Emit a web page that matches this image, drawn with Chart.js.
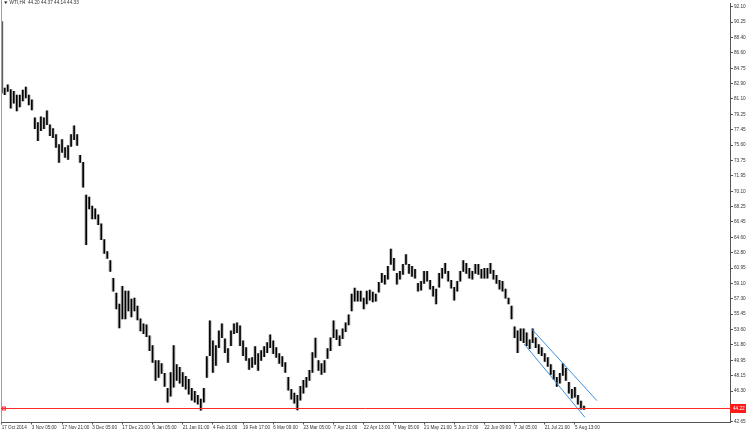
<!DOCTYPE html>
<html>
<head>
<meta charset="utf-8">
<script src="https://cdn.jsdelivr.net/npm/chart.js"></script>
<style>
  html, body { margin: 0; padding: 0; background: #fff; }
  #wrap { width: 750px; height: 430px; position: relative; }
</style>
</head>
<body>
<div id="wrap"><canvas id="wti"></canvas></div>
<script>
// WTI H4, one slot per trading day
const slotHigh = [
  90.30, 82.38, 82.78, 82.20, 82.00, 81.56, 81.56, 82.15, 82.50, 81.56,
  80.97, 78.85, 78.26, 78.97, 78.85, 79.67, 78.02, 77.55, 76.84, 75.66,
  76.25, 75.31, 75.54, 76.84, 77.90, 76.84, 74.36, 73.54, 69.64, 69.40,
  68.34, 67.99, 67.28, 66.22, 64.33, 62.91, 61.85, 59.73, 57.96, 56.66,
  58.78, 58.19, 58.19, 57.25, 57.37, 56.42, 54.89, 54.30, 54.18, 52.88,
  51.70, 49.93, 49.93, 49.58, 48.40, 46.63, 48.51, 51.70, 49.46, 49.11,
  48.51, 48.04, 47.69, 46.63, 46.27, 45.80, 45.33, 46.63, 50.40, 54.65,
  52.29, 51.70, 53.47, 54.30, 52.53, 51.35, 53.47, 54.30, 54.42, 54.06,
  52.29, 51.47, 50.17, 50.29, 51.58, 50.76, 51.11, 51.58, 52.06, 53.00,
  52.29, 51.47, 50.76, 50.40, 49.70, 47.93, 46.51, 46.04, 45.80, 46.86,
  47.57, 47.93, 48.75, 50.88, 52.60, 49.93, 49.58, 49.93, 51.35, 52.65,
  54.65, 53.59, 52.88, 53.71, 54.42, 55.36, 57.84, 58.55, 58.19, 58.19,
  57.37, 58.19, 58.31, 58.08, 57.84, 59.25, 60.32, 60.08, 61.14, 63.20,
  62.09, 60.32, 60.55, 61.38, 62.56, 61.38, 61.14, 60.79, 59.13, 59.37,
  60.55, 60.55, 59.49, 58.78, 58.43, 60.32, 60.91, 61.50, 60.55, 59.49,
  58.66, 59.37, 60.55, 61.85, 61.50, 60.91, 60.55, 61.38, 61.38, 60.79,
  60.91, 60.91, 61.50, 60.67, 60.08, 59.49, 59.37, 58.43, 57.37, 56.42,
  53.95, 53.47, 53.71, 53.71, 53.24, 52.41, 53.71, 52.65, 51.82, 51.47,
  50.76, 50.29, 49.46, 48.75, 47.93, 48.40, 49.58, 48.99, 47.34, 46.51,
  46.75, 45.80, 45.09, 44.50
];
const slotLow = [
  81.80, 81.60, 82.00, 80.00, 80.60, 79.67, 80.15, 80.85, 81.20, 80.38,
  79.79, 77.55, 76.13, 77.31, 77.55, 78.02, 76.72, 76.49, 75.31, 73.54,
  74.72, 74.13, 73.89, 75.42, 76.25, 75.54, 73.54, 70.58, 63.74, 67.99,
  66.81, 66.81, 66.10, 64.33, 62.68, 62.09, 60.55, 58.19, 56.07, 53.83,
  54.89, 54.89, 55.83, 55.13, 55.83, 54.77, 53.47, 53.12, 52.76, 51.11,
  49.70, 47.57, 47.93, 48.40, 46.86, 44.98, 45.68, 46.75, 47.57, 47.22,
  46.86, 46.51, 45.92, 45.21, 44.98, 44.74, 44.03, 44.98, 47.93, 50.52,
  48.52, 49.34, 51.47, 52.65, 50.88, 49.70, 51.70, 53.12, 53.24, 51.70,
  50.52, 49.93, 48.87, 49.11, 49.46, 48.75, 49.93, 50.40, 50.88, 51.47,
  50.76, 50.29, 49.58, 49.22, 48.52, 46.39, 45.33, 44.86, 44.05, 45.21,
  46.04, 46.75, 47.57, 48.52, 50.29, 48.75, 48.28, 48.52, 50.17, 51.11,
  52.65, 52.41, 51.70, 52.53, 53.36, 54.18, 55.83, 57.01, 57.01, 57.01,
  56.07, 56.66, 57.13, 56.90, 57.01, 58.08, 59.25, 59.02, 59.61, 61.38,
  60.67, 59.02, 59.61, 60.20, 61.38, 60.32, 59.96, 59.73, 58.19, 58.31,
  59.13, 59.37, 58.43, 57.60, 56.66, 58.66, 59.73, 60.32, 59.37, 58.55,
  57.13, 58.19, 59.37, 60.55, 60.32, 59.73, 59.61, 60.32, 60.20, 59.73,
  59.73, 59.73, 60.32, 59.61, 59.13, 58.43, 58.19, 57.37, 56.66, 54.89,
  52.65, 50.88, 52.29, 52.06, 51.70, 51.35, 52.06, 51.47, 50.76, 50.52,
  49.82, 49.22, 48.28, 47.69, 46.86, 47.22, 48.16, 47.57, 46.04, 45.45,
  45.57, 44.74, 44.15, 44.10
];

// time axis labels, one every 10 slots
const xTickSlots = [0, 10, 20, 30, 40, 50, 60, 70, 80, 90, 100, 110, 120, 130, 140, 150, 160, 170, 180, 190];
const xTickLabels = [
  '17 Oct 2014', '3 Nov 05:00', '17 Nov 21:00', '3 Dec 05:00', '17 Dec 21:00',
  '6 Jan 05:00', '21 Jan 01:00', '4 Feb 21:00', '19 Feb 17:00', '6 Mar 09:00',
  '23 Mar 05:00', '7 Apr 21:00', '22 Apr 13:00', '7 May 05:00', '21 May 21:00',
  '5 Jun 17:00', '22 Jun 09:00', '7 Jul 05:00', '21 Jul 21:00', '5 Aug 13:00'
];

// price scale labels
const yTickValues = [
  92.10, 90.25, 88.40, 86.60, 84.75, 82.90, 81.10, 79.25, 77.45, 75.60,
  73.75, 71.95, 70.10, 68.25, 66.45, 64.60, 62.80, 60.95, 59.10, 57.30,
  55.45, 53.60, 51.80, 49.95, 48.15, 46.30, 42.65
];

// down channel drawn on the chart (slot, price)
const channelUpperX = [175.7, 197.3];
const channelUpperY = [53.67, 45.15];
const channelLowerX = [173.2, 193.3];
const channelLowerY = [51.90, 43.17];

// horizontal support level
const supportLevel = 44.22;
const headerText = 'WTI,H4  44.20 44.37 44.14 44.33';

const FONT = '"Liberation Sans", Arial, sans-serif';

const bars = slotHigh.map((h, i) => ({ x: i, y: [slotLow[i], h] }));

const overlay = {
    id: 'mt4Overlay',
    afterDraw(chart) {
        const { ctx, chartArea: a, scales: { y } } = chart;
        const py = Math.round(y.getPixelForValue(supportLevel)) + 0.5;
        ctx.save();

        // left frame
        ctx.strokeStyle = '#a0a0a0';
        ctx.lineWidth = 1;
        ctx.beginPath();
        ctx.moveTo(a.left + 0.5, 0);
        ctx.lineTo(a.left + 0.5, a.bottom);
        ctx.stroke();

        // support line + marker
        ctx.strokeStyle = '#ff2a2a';
        ctx.beginPath();
        ctx.moveTo(a.left, py);
        ctx.lineTo(a.right, py);
        ctx.stroke();
        ctx.strokeRect(a.left + 1.5, py - 1.5, 3, 3);

        // price tag on the axis
        ctx.fillStyle = '#ff1a1a';
        ctx.fillRect(a.right, py - 4.5, 16, 9);
        ctx.fillStyle = '#ffffff';
        ctx.font = '4.7px ' + FONT;
        ctx.textBaseline = 'middle';
        ctx.textAlign = 'left';
        ctx.fillText(supportLevel.toFixed(2), a.right + 3, py);

        // header
        ctx.fillStyle = '#222';
        ctx.beginPath();
        ctx.moveTo(4, 1.5);
        ctx.lineTo(7.5, 1.5);
        ctx.lineTo(5.75, 4);
        ctx.closePath();
        ctx.fill();
        ctx.fillStyle = '#333';
        ctx.fillText(headerText, 9.5, 3);

        ctx.restore();
    }
};

new Chart(document.getElementById('wti'), {
    type: 'bar',
    data: {
        datasets: [
            {
                label: 'WTI range',
                data: bars,
                backgroundColor: '#c4c4c4',
                borderWidth: 0,
                grouped: false,
                barPercentage: 1,
                categoryPercentage: 1,
                order: 2
            },
            {
                label: 'WTI',
                data: bars,
                backgroundColor: '#000',
                borderWidth: 0,
                grouped: false,
                barThickness: 1,
                order: 1
            },
            {
                type: 'line',
                label: 'upper',
                data: channelUpperX.map((x, i) => ({ x: x, y: channelUpperY[i] })),
                borderColor: '#3b8fe0',
                borderWidth: 1,
                pointRadius: 0,
                fill: false,
                order: 0
            },
            {
                type: 'line',
                label: 'lower',
                data: channelLowerX.map((x, i) => ({ x: x, y: channelLowerY[i] })),
                borderColor: '#3b8fe0',
                borderWidth: 1,
                pointRadius: 0,
                fill: false,
                order: 0
            }
        ]
    },
    options: {
        responsive: true,
        maintainAspectRatio: false,
        animation: false,
        layout: { padding: { left: 1, top: 0, right: 0, bottom: 0 } },
        plugins: {
            legend: { display: false },
            tooltip: { enabled: false }
        },
        scales: {
            x: {
                type: 'linear',
                min: -0.23,
                max: 241.4,
                offset: false,
                afterBuildTicks: s => { s.ticks = xTickSlots.map(v => ({ value: v })); },
                afterFit: s => { s.height = 7.5; },
                grid: { display: true, drawOnChartArea: false, offset: false, tickLength: 2, tickColor: '#555' },
                border: { display: true, color: '#555' },
                ticks: {
                    autoSkip: false,
                    maxRotation: 0,
                    minRotation: 0,
                    align: 'start',
                    padding: 0,
                    color: '#333',
                    font: { family: FONT, size: 4.6 },
                    callback: (v, i) => xTickLabels[i]
                }
            },
            y: {
                position: 'right',
                min: 42.55,
                max: 92.42,
                beginAtZero: false,
                afterBuildTicks: s => { s.ticks = yTickValues.map(v => ({ value: v })); },
                afterFit: s => { s.width = 20; },
                grid: { display: true, drawOnChartArea: false, tickLength: 3, tickColor: '#555' },
                border: { display: true, color: '#555' },
                ticks: {
                    padding: 1,
                    color: '#333',
                    font: { family: FONT, size: 4.7 },
                    callback: v => Number(v).toFixed(2)
                }
            }
        }
    },
    plugins: [overlay]
});
</script>
</body>
</html>
